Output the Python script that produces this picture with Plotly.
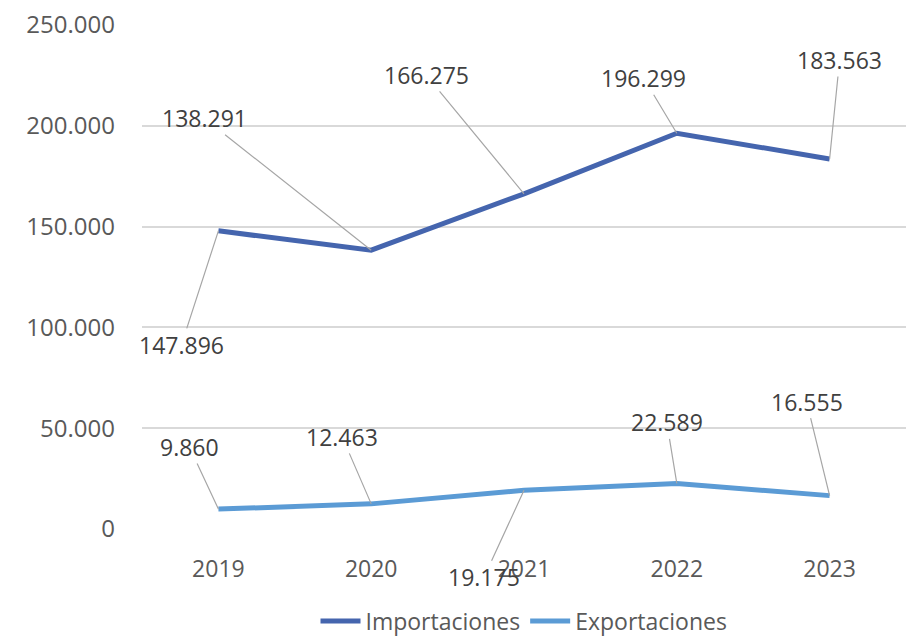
import plotly.graph_objects as go

years = [2019, 2020, 2021, 2022, 2023]
importaciones = [147896, 138291, 166275, 196299, 183563]
exportaciones = [9860, 12463, 19175, 22589, 16555]
y_ticks = [0, 50000, 100000, 150000, 200000, 250000]

# label offsets (pixels) for leader lines
imp_offsets = [(-37, 114), (-167, -132), (-98, -119), (-33, -55), (10, -99)]
exp_offsets = [(-29, -62), (-29, -67), (-40, 87), (-10, -61), (-23, -94)]

FONT = "Open Sans"

def fmt(v):
    return f"{v:,}".replace(",", ".")

fig = go.Figure()
fig.add_trace(go.Scatter(x=years, y=importaciones, mode="lines", name="Importaciones",
                         line=dict(color="#4565AE", width=5)))
fig.add_trace(go.Scatter(x=years, y=exportaciones, mode="lines", name="Exportaciones",
                         line=dict(color="#5B9BD5", width=5)))

anns = []
for series, offs in ((importaciones, imp_offsets), (exportaciones, exp_offsets)):
    for x, v, (ax, ay) in zip(years, series, offs):
        anns.append(dict(x=x, y=v, xref="x", yref="y", text=fmt(v), showarrow=True,
                         arrowhead=0, arrowwidth=1.2, arrowcolor="#A6A6A6", ax=ax, ay=ay,
                         font=dict(family=FONT, size=23, color="#404040"), standoff=0,
                         borderpad=0))

fig.update_layout(
    width=908, height=638,
    margin=dict(l=142, r=2, t=25, b=109, autoexpand=False),
    paper_bgcolor="white", plot_bgcolor="white",
    separators=",.",
    font=dict(family=FONT, size=23, color="#595959"),
    showlegend=True,
    legend=dict(orientation="h", x=0.5, xanchor="center", y=-0.14, yanchor="top",
                font=dict(family=FONT, size=23, color="#595959"), itemwidth=40,
                tracegroupgap=0),
    annotations=anns,
)
fig.update_xaxes(range=[2018.5, 2023.5], tickvals=years, ticktext=[str(y) for y in years],
                 showgrid=False, zeroline=False, showline=False, ticks="", automargin=False,
                 ticklabelstandoff=24, tickfont=dict(family=FONT, size=23, color="#595959"))
fig.update_yaxes(range=[0, 250000], tickvals=y_ticks, tickformat=",d", automargin=False,
                 showgrid=True, gridcolor="#D9D9D9", gridwidth=1.5, zeroline=False,
                 showline=False, ticks="", ticklabelstandoff=26,
                 tickfont=dict(family=FONT, size=24, color="#595959"))

fig.write_html("out.html", config={"displayModeBar": False},
               post_script="document.body.style.margin='0';document.body.style.overflow='hidden';")
